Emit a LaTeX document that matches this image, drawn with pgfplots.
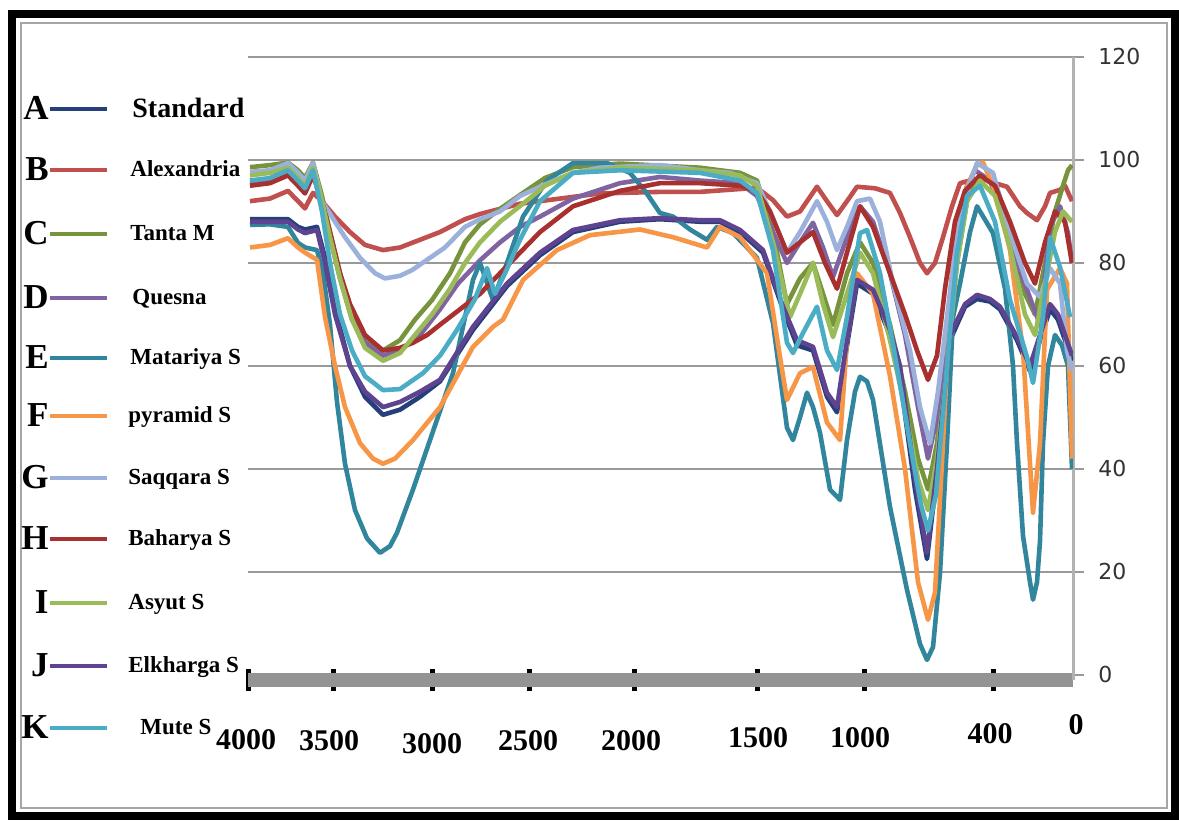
\documentclass[border=0pt]{standalone}
\usepackage{fontspec}
\setmainfont{Liberation Serif}
\newfontfamily\ysf{DejaVu Sans}
\usepackage{pgfplots}
\pgfplotsset{compat=1.18}
\definecolor{cA}{HTML}{243F7A}
\definecolor{cB}{HTML}{C0504D}
\definecolor{cC}{HTML}{77933C}
\definecolor{cD}{HTML}{8064A2}
\definecolor{cE}{HTML}{31859C}
\definecolor{cF}{HTML}{F79646}
\definecolor{cG}{HTML}{9BB1DC}
\definecolor{cH}{HTML}{A8302E}
\definecolor{cI}{HTML}{9BBB59}
\definecolor{cJ}{HTML}{5E4390}
\definecolor{cK}{HTML}{4BACC6}
\begin{document}
\begin{tikzpicture}
\useasboundingbox (0pt,0pt) rectangle (589.5pt,410pt);
\fill[white] (0pt,0pt) rectangle (589.5pt,410pt);
\begin{axis}[
  at={(124pt,70pt)}, anchor=south west, scale only axis,
  width=412.5pt, height=311.5pt,
  xmin=248, xmax=1073, ymin=-1, ymax=120,
  axis x line*=bottom, axis y line*=right,
  x axis line style={-, line width=7pt, color=black!42},
  y axis line style={-, line width=1.5pt, color=black!30},
  xtick={248,333,432,529,634,757,864,993}, xticklabels={},
  ytick={0,20,...,120}, yticklabels={},
  tick align=center, major tick length=11pt,
  xtick style={line width=2.5pt, black},
  ytick style={line width=1pt, black!40},
  ymajorgrids, grid style={black!40, line width=1pt},
  every axis plot/.append style={line width=2.3pt, line join=round, no markers},
]
% A Standard
\addplot[cA] coordinates {(250,88.5)(270,88.5)(288,88.5)(298,87)(305,86.5)(317,87)(325,81)(335,71)(350,60)(365,54)(383,50.5)(400,51.5)(420,54)(440,57)(473,67)(507,75.5)(540,81.5)(573,86)(620,88)(660,88.5)(700,88)(720,88)(740,86)(763,82)(783,71)(797,64)(813,63)(827,54)(837,51)(847,64)(857,76)(873,74)(890,66)(900,58)(915,36)(927,22.5)(937,39)(950,65)(965,71.5)(977,73)(990,72.5)(1000,71)(1017,65)(1030,59)(1040,65)(1050,71)(1058,69)(1065,65)(1072,61)};
% B Alexandria
\addplot[cB] coordinates {(250,92)(270,92.5)(288,94)(298,92)(305,90.6)(313,93.6)(322,92)(335,89)(350,86)(365,83.5)(383,82.5)(400,83)(420,84.5)(440,86)(465,88.5)(480,89.5)(500,90.5)(520,91.5)(560,92.5)(600,93.5)(660,93.8)(700,93.8)(757,94.6)(773,92.2)(787,89)(800,90)(817,94.8)(827,92)(837,89.3)(847,92)(857,94.8)(875,94.5)(890,93.6)(900,89.7)(910,85)(920,80)(927,78)(935,80)(943,85)(952,91)(960,95.5)(970,96)(980,96.5)(995,95.5)(1007,94.8)(1020,91)(1027,89.7)(1037,88.3)(1045,91)(1050,93.6)(1060,94.2)(1065,95)(1072,92)};
% C Tanta M
\addplot[cC] coordinates {(250,98.6)(270,99)(288,99.5)(298,98)(305,96.5)(313,99.5)(322,93)(330,86)(340,78)(352,70)(365,65)(383,63)(400,65)(415,69)(432,72.8)(450,78)(465,84)(480,87.5)(500,90.5)(523,93.6)(545,96.5)(573,98.6)(620,99.3)(700,98.5)(740,97.5)(757,96)(773,86)(787,72)(800,77)(813,80)(823,74)(833,68)(847,78)(860,84)(873,80)(890,68)(905,55)(918,42)(928,36)(937,45)(947,62)(957,80)(967,92)(980,97)(995,95)(1010,86)(1025,74)(1035,70)(1045,80)(1055,90)(1063,95)(1068,98)(1072,99)};
% D Quesna
\addplot[cD] coordinates {(250,95.5)(270,96)(288,97.5)(298,95.5)(305,94)(313,97.5)(322,91)(330,85)(340,77)(352,69)(365,64.5)(383,62)(400,63)(420,66)(440,71)(458,76)(480,80.5)(500,84)(520,87)(540,89)(573,92.5)(620,95.5)(660,96.7)(700,96)(740,95.5)(757,93)(773,86)(787,80)(800,84)(813,87.8)(823,83)(833,77.3)(847,85)(860,91)(873,88)(890,78)(905,66)(918,52)(928,42)(937,50)(947,68)(957,86)(967,95)(975,98)(990,96)(1005,88)(1017,80)(1027,74.8)(1040,68)(1050,87)(1060,91)(1068,85.8)(1072,80)};
% E Matariya S
\addplot[cE] coordinates {(250,87.4)(270,87.5)(288,87)(298,83.9)(305,83)(317,82.5)(323,78)(330,68)(337,53)(345,41)(355,32)(367,26.5)(380,23.7)(390,25)(397,27.6)(413,36)(430,45.6)(453,58.6)(473,76.7)(480,80)(493,72.8)(507,80)(523,89)(547,96)(573,99.4)(607,99.4)(630,97.5)(645,94)(660,89.7)(673,89)(690,86.5)(707,84.5)(717,87)(733,85.8)(757,81)(773,68.3)(787,48)(793,45.6)(800,50)(807,54.8)(813,52)(820,47)(830,36)(840,34)(847,45.6)(855,55)(860,57.9)(867,57)(873,53.4)(890,32.6)(907,16.5)(920,6)(927,2.9)(933,5.4)(940,19.8)(947,45)(953,69.5)(960,76)(970,86)(977,91)(993,85.8)(1005,75)(1013,60)(1017,45)(1023,27)(1030,18)(1033,14.6)(1037,18)(1040,26)(1043,45)(1048,60)(1055,66)(1062,64)(1068,60)(1072,40)};
% F pyramid S
\addplot[cF] coordinates {(250,83)(270,83.5)(288,84.8)(298,83)(305,82)(317,80.6)(325,69.5)(335,60)(345,52)(360,45)(373,42)(383,41)(395,42)(413,45.6)(440,52)(473,63.7)(493,67.6)(503,69)(523,76.7)(557,82.5)(590,85.4)(640,86.5)(673,85)(707,83)(720,87)(740,85)(767,78)(780,61.7)(787,53.4)(800,58.6)(813,59.8)(827,49)(840,45.6)(847,65)(857,78)(873,74)(890,58)(905,40)(918,18)(928,10.7)(935,16)(943,45)(953,82.5)(965,94)(977,99)(983,99.5)(995,94)(1010,82.5)(1023,63)(1033,31.5)(1040,45)(1047,74.8)(1060,79)(1067,76)(1072,42)};
% G Saqqara S
\addplot[cG] coordinates {(250,97.7)(270,98)(288,99.4)(298,97.5)(305,96)(313,99.4)(322,92)(335,88)(345,85)(360,81)(375,78)(385,77)(400,77.5)(412,78.6)(430,81)(445,83)(465,87)(480,88.5)(500,90)(520,93)(540,94.8)(560,96.5)(573,97.5)(600,98.5)(660,99)(700,98)(730,97.5)(757,95.5)(770,90)(787,82)(800,86)(817,92)(827,88)(837,82.5)(847,87)(857,92)(870,92.5)(880,88)(893,76)(910,63)(920,52)(930,45)(938,55)(947,69.5)(955,82)(963,92)(977,99.4)(993,97.5)(1010,85.8)(1027,76)(1040,73.4)(1050,79)(1060,76)(1067,63)(1072,59)};
% H Baharya S
\addplot[cH] coordinates {(250,95)(270,95.5)(288,97)(298,95)(305,93.5)(313,97)(322,92)(330,86)(340,78)(350,72)(365,66)(383,63)(400,63.5)(413,64.5)(427,66)(440,68)(460,71)(480,74)(500,78)(520,82)(540,86)(573,91)(620,94)(660,95.5)(700,95.5)(740,95)(757,94)(770,90)(787,82)(800,84)(813,86)(825,80)(837,75)(847,82)(860,91)(873,87)(890,78)(905,70)(917,63)(928,57.3)(937,62)(945,75)(955,88)(965,94)(980,97)(995,95)(1010,88)(1025,80)(1035,76)(1045,84)(1055,90)(1065,88)(1072,80)};
% I Asyut S
\addplot[cI] coordinates {(250,97)(270,97.5)(288,98.5)(298,96.5)(305,95)(313,98.5)(322,92)(330,85)(340,77)(352,69)(365,63.5)(383,61)(400,62.5)(415,66)(432,70)(450,75)(465,80)(480,84)(500,88)(523,91.5)(545,95)(573,97.5)(620,98.5)(700,98)(740,97)(757,95)(773,84)(790,69.5)(800,74)(813,80)(823,72)(833,65.6)(847,74)(860,82)(873,78)(890,65)(905,52)(918,38)(928,32)(937,42)(947,60)(957,80)(967,92)(980,96)(995,93)(1010,83)(1025,70)(1035,66)(1045,76)(1055,86)(1063,90)(1072,88)};
% J Elkharga S
\addplot[cJ] coordinates {(250,88)(270,88)(288,88)(298,86.5)(305,85.8)(317,86.4)(325,80)(335,70)(350,60)(365,55)(383,52)(400,53)(420,55)(440,57.3)(473,67.6)(507,76)(540,82)(573,86.4)(620,88.3)(660,88.7)(700,88.3)(720,88.3)(740,86.4)(763,82.5)(783,71.5)(797,65)(813,63.7)(827,54.8)(837,52)(847,65)(857,76.7)(873,74.8)(890,67)(900,60)(915,38)(927,23.7)(937,40)(950,66)(965,72)(977,73.8)(990,73)(1000,71.5)(1017,65.6)(1030,60)(1040,66)(1050,72)(1058,70)(1065,66)(1072,62)};
% K Mute S
\addplot[cK] coordinates {(250,96)(270,96.5)(288,98)(298,96)(305,94.5)(313,98)(322,90)(330,80)(340,70)(352,63)(365,58)(383,55.3)(400,55.5)(423,58.6)(440,62)(457,67)(475,73)(487,79)(495,74)(505,78)(520,84.5)(540,92)(573,97.5)(620,98)(700,97.5)(740,96)(757,93.6)(773,82.5)(787,64.5)(793,62.5)(803,66.4)(817,71.5)(827,63)(837,59.2)(847,69.5)(860,85.8)(867,86.4)(880,78)(895,62)(910,45)(921,33)(928,28)(936,35)(947,60)(957,82)(967,93)(980,95)(995,88)(1010,72.8)(1027,61.7)(1033,56.7)(1043,69.5)(1050,85)(1060,79.2)(1070,69.5)};
\end{axis}
\begin{scope}[x=0.5pt, y=-0.5pt, shift={(0pt,410pt)}]
\draw[black, line width=4pt] (12,14) rectangle (1175,816);
\draw[black!35, line width=0.7pt] (21,23) rectangle (1167,808);
% x tick labels
\begin{scope}[every node/.style={anchor=base, inner sep=0pt, font=\fontsize{15}{16}\selectfont\bfseries}]
\node at (246,750) {4000};
\node at (329,751) {3500};
\node at (432,754) {3000};
\node at (528,751) {2500};
\node at (631,751) {2000};
\node at (758,748) {1500};
\node at (860,748) {1000};
\node at (990,744) {400};
\node at (1076,735) {0};
\end{scope}
% y tick labels
\begin{scope}[every node/.style={anchor=base west, inner sep=0pt, text=black!80, font=\ysf\fontsize{11}{12}\selectfont}]
\node at (1098,682.6) {0};
\node at (1098,579.6) {20};
\node at (1098,476.6) {40};
\node at (1098,373.6) {60};
\node at (1098,270.6) {80};
\node at (1098,167.6) {100};
\node at (1098,64.6) {120};
\end{scope}
% legend
\begin{scope}[every node/.style={inner sep=0pt}]
\foreach \L/\c/\yy in {A/cA/108,B/cB/169,C/cC/233,D/cD/297,E/cE/357,F/cF/415,G/cG/477,H/cH/538,I/cI/602,J/cJ/665,K/cK/727}{
  \node[anchor=base east, font=\fontsize{17.5}{18}\selectfont\bfseries] at (49,\yy+11.5) {\L};
  \draw[\c, line width=1.6pt] (50,\yy+1) -- (107,\yy+1);
}
\node[anchor=base west, font=\fontsize{14}{15}\selectfont\bfseries] at (132,118) {Standard};
\begin{scope}[every node/.style={anchor=base west, inner sep=0pt, font=\fontsize{11.5}{12}\selectfont\bfseries}]
\node at (130,176.5) {Alexandria};
\node at (130,240.5) {Tanta M};
\node at (132,304.5) {Quesna};
\node at (130,364.5) {Matariya S};
\node at (128,422.5) {pyramid S};
\node at (128,484.5) {Saqqara S};
\node at (128,545.5) {Baharya S};
\node at (128,609.5) {Asyut S};
\node at (128,672.5) {Elkharga S};
\node at (140,734.5) {Mute S};
\end{scope}
\end{scope}
\end{scope}
\end{tikzpicture}
\end{document}
